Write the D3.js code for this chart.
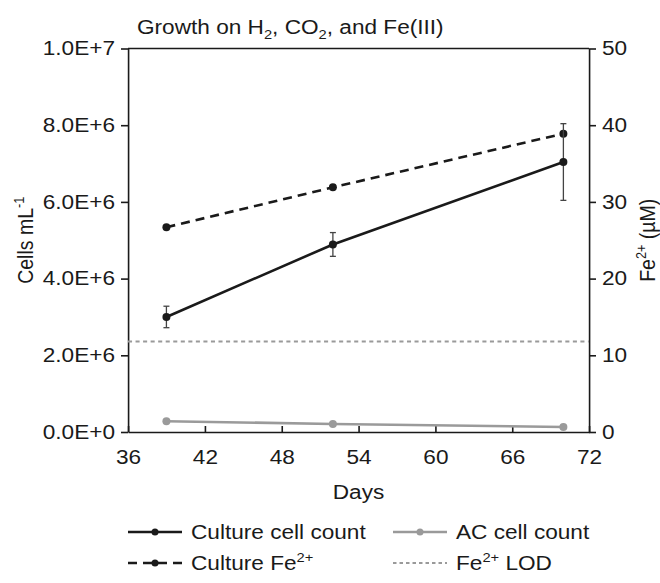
<!DOCTYPE html>
<html>
<head>
<meta charset="utf-8">
<script src="https://cdn.jsdelivr.net/npm/d3@7"></script>
<style>
  body { margin: 0; background: #fff; }
  text { font-family: "Liberation Sans", Arial, sans-serif; fill: #1a1a1a; }
</style>
</head>
<body>
<script>
// values
var days = [39, 52, 70];
var cultureCells = [3.0e6, 4.89e6, 7.04e6];
var cultureCellsErr = [0.28e6, 0.31e6, 1.0e6];
var acCells = [2.8e5, 2.1e5, 1.3e5];
var cultureFe = [26.7, 31.9, 38.9];
var feLOD = 11.8;

var dayTicks = [36, 42, 48, 54, 60, 66, 72];
var cellTicks = [0, 2e6, 4e6, 6e6, 8e6, 1e7];
var cellTickLabels = ["0.0E+0", "2.0E+6", "4.0E+6", "6.0E+6", "8.0E+6", "1.0E+7"];
var feTicks = [0, 10, 20, 30, 40, 50];

// the reference glyphs are a bit wide, so draw in a narrower box and stretch it
var SX = 1.16;
var width = 660, height = 583;
var W = width / SX;
var pLeft = 128, pRight = 589, pTop = 48.5, pBottom = 432;
var fs = 19.5;
var ink = "#1a1a1a", grey = "#9a9a9a";

var svg = d3.select("body").append("svg")
    .attr("width", width)
    .attr("height", height)
    .attr("viewBox", "0 0 " + W + " " + height)
    .attr("preserveAspectRatio", "none");

var x = d3.scaleLinear().domain([36, 72]).range([pLeft / SX, pRight / SX]);
var yL = d3.scaleLinear().domain([0, 1e7]).range([pBottom, pTop]);
var yR = d3.scaleLinear().domain([0, 50]).range([pBottom, pTop]);

function styleAxis(g) {
    g.attr("font-size", null).attr("font-family", null);
    g.selectAll("path, line")
        .attr("stroke", ink)
        .attr("stroke-width", 1.6)
        .attr("vector-effect", "non-scaling-stroke");
    g.selectAll("text").style("font-size", fs + "px").attr("fill", ink);
}

// top frame line
svg.append("line")
    .attr("x1", x(36)).attr("x2", x(72))
    .attr("y1", pTop).attr("y2", pTop)
    .attr("stroke", ink).attr("stroke-width", 1.6)
    .attr("vector-effect", "non-scaling-stroke");

svg.append("g")
    .attr("transform", "translate(" + x(36) + ",0)")
    .call(d3.axisLeft(yL).tickValues(cellTicks)
        .tickFormat((d, i) => cellTickLabels[i])
        .tickSize(7 / SX).tickSizeOuter(0).tickPadding(6 / SX))
    .call(styleAxis);

svg.append("g")
    .attr("transform", "translate(" + x(72) + ",0)")
    .call(d3.axisRight(yR).tickValues(feTicks)
        .tickSize(7 / SX).tickSizeOuter(0).tickPadding(6 / SX))
    .call(styleAxis);

svg.append("g")
    .attr("transform", "translate(0," + pBottom + ")")
    .call(d3.axisBottom(x).tickValues(dayTicks)
        .tickSize(-6).tickSizeOuter(0).tickPadding(18))
    .call(styleAxis);

// text with sub/superscripts
function rich(sel, parts) {
    var shift = 0;
    parts.forEach(function (p) {
        var t = sel.append("tspan").text(p.t);
        var want = p.sup ? -fs * 0.4 : p.sub ? fs * 0.25 : 0;
        if (want - shift !== 0) t.attr("dy", want - shift);
        shift = want;
        if (p.sup || p.sub) t.style("font-size", (fs * 0.65) + "px");
    });
    return sel;
}

// title
svg.append("text")
    .attr("x", 137 / SX).attr("y", 34)
    .style("font-size", fs + "px")
    .call(rich, [{t: "Growth on H"}, {t: "2", sub: true}, {t: ", CO"}, {t: "2", sub: true}, {t: ", and Fe(III)"}]);

// axis titles
svg.append("text")
    .attr("transform", "translate(" + (33 / SX) + "," + ((pTop + pBottom) / 2) + ") rotate(-90)")
    .attr("text-anchor", "middle")
    .style("font-size", fs + "px")
    .call(rich, [{t: "Cells mL"}, {t: "-1", sup: true}]);

svg.append("text")
    .attr("transform", "translate(" + (655 / SX) + "," + ((pTop + pBottom) / 2) + ") rotate(-90)")
    .attr("text-anchor", "middle")
    .style("font-size", fs + "px")
    .call(rich, [{t: "Fe"}, {t: "2+", sup: true}, {t: " (µM)"}]);

svg.append("text")
    .attr("x", (x(36) + x(72)) / 2).attr("y", 499)
    .attr("text-anchor", "middle")
    .style("font-size", fs + "px")
    .text("Days");

// Fe2+ LOD line
svg.append("line")
    .attr("x1", x(36)).attr("x2", x(72))
    .attr("y1", yR(feLOD)).attr("y2", yR(feLOD))
    .attr("stroke", grey).attr("stroke-width", 2)
    .attr("stroke-dasharray", "3.5,3");

var rows = days.map((d, i) => ({
    day: d, cells: cultureCells[i], err: cultureCellsErr[i], ac: acCells[i], fe: cultureFe[i]
}));

function series(key, scale, color, dash) {
    var line = d3.line().x(d => x(d.day)).y(d => scale(d[key]));
    svg.append("path")
        .datum(rows)
        .attr("d", line)
        .attr("fill", "none")
        .attr("stroke", color)
        .attr("stroke-width", 2.6)
        .attr("stroke-dasharray", dash)
        .attr("vector-effect", "non-scaling-stroke");
    svg.append("g").selectAll("ellipse")
        .data(rows)
        .enter().append("ellipse")
        .attr("cx", d => x(d.day))
        .attr("cy", d => scale(d[key]))
        .attr("rx", 4 / SX).attr("ry", 4)
        .attr("fill", color);
}

series("ac", yL, grey, null);
series("fe", yR, ink, "9,6");

// error bars for culture cell count
var eb = svg.append("g").attr("stroke", "#444").attr("stroke-width", 1.3);
rows.forEach(function (d) {
    var cx = x(d.day), y0 = yL(d.cells - d.err), y1 = yL(d.cells + d.err);
    eb.append("line").attr("x1", cx).attr("x2", cx).attr("y1", y0).attr("y2", y1)
        .attr("vector-effect", "non-scaling-stroke");
    [y0, y1].forEach(function (yy) {
        eb.append("line").attr("x1", cx - 3 / SX).attr("x2", cx + 3 / SX).attr("y1", yy).attr("y2", yy)
            .attr("vector-effect", "non-scaling-stroke");
    });
});

series("cells", yL, ink, null);

// legend
var legendItems = [
    {parts: [{t: "Culture cell count"}], color: ink, dash: null, marker: true, lx: 128, row: 0},
    {parts: [{t: "AC cell count"}], color: grey, dash: null, marker: true, lx: 393, row: 0},
    {parts: [{t: "Culture Fe"}, {t: "2+", sup: true}], color: ink, dash: "9,6", marker: true, lx: 128, row: 1},
    {parts: [{t: "Fe"}, {t: "2+", sup: true}, {t: " LOD"}], color: grey, dash: "3.5,3", marker: false, lx: 393, row: 1}
];
var rowY = [532, 563];

legendItems.forEach(function (it) {
    var g = svg.append("g");
    var yy = rowY[it.row];
    var x0 = it.lx, x1 = it.lx + 54;
    g.append("line")
        .attr("x1", x0 / SX).attr("x2", x1 / SX)
        .attr("y1", yy).attr("y2", yy)
        .attr("stroke", it.color)
        .attr("stroke-width", it.marker ? 2.6 : 2)
        .attr("stroke-dasharray", it.dash)
        .attr("vector-effect", "non-scaling-stroke");
    if (it.marker) {
        g.append("ellipse")
            .attr("cx", (x0 + x1) / 2 / SX).attr("cy", yy)
            .attr("rx", 3.5 / SX).attr("ry", 3.5)
            .attr("fill", it.color);
    }
    g.append("text")
        .attr("x", (x1 + 9) / SX).attr("y", yy)
        .attr("dy", "0.35em")
        .style("font-size", fs + "px")
        .call(rich, it.parts);
});
</script>
</body>
</html>
